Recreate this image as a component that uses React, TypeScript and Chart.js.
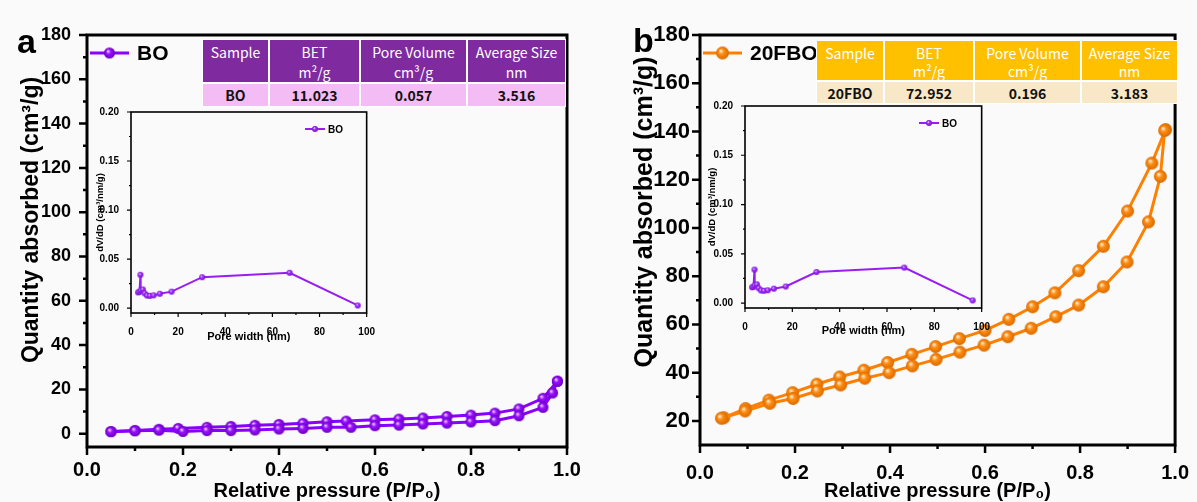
import React, { useEffect, useRef } from 'react';
import { Chart, registerables } from 'chart.js';
Chart.register(...registerables);

const FONT = '"Liberation Sans", Arial, Helvetica, sans-serif';
const CJK = '"Noto Sans CJK SC", "Noto Sans", sans-serif';

// ---------- Panel a: BO isotherm ----------
const boAdsP = [0.05, 0.1, 0.15, 0.2, 0.25, 0.3, 0.35, 0.4, 0.45, 0.5, 0.55, 0.6, 0.65, 0.7, 0.75, 0.8, 0.85, 0.9, 0.95, 0.97, 0.98];
const boAdsQ = [0.9, 1.3, 1.6, 1.0, 1.4, 1.4, 1.7, 2.1, 2.4, 2.9, 2.9, 3.6, 3.9, 4.4, 4.8, 5.3, 5.9, 8.1, 11.9, 18.4, 23.7];
const boDesP = [0.98, 0.95, 0.9, 0.85, 0.8, 0.75, 0.7, 0.65, 0.6, 0.54, 0.5, 0.45, 0.4, 0.35, 0.3, 0.25, 0.19, 0.15, 0.1, 0.05];
const boDesQ = [23.7, 16.0, 11.2, 9.3, 8.4, 7.8, 7.1, 6.6, 6.3, 5.7, 5.4, 4.7, 4.2, 3.8, 3.3, 2.9, 2.4, 2.0, 1.5, 1.0];

// ---------- Panel b: 20FBO isotherm ----------
const fboAdsP = [0.045, 0.095, 0.147, 0.196, 0.247, 0.296, 0.347, 0.398, 0.447, 0.497, 0.547, 0.598, 0.648, 0.697, 0.749, 0.797, 0.849, 0.899, 0.944, 0.969, 0.978];
const fboAdsQ = [21.1, 24.1, 27.3, 29.3, 32.4, 34.9, 37.7, 40.0, 42.8, 45.5, 48.5, 51.4, 54.9, 58.4, 63.2, 68.0, 75.6, 85.9, 102.5, 121.4, 140.4];
const fboDesP = [0.98, 0.951, 0.9, 0.849, 0.797, 0.747, 0.7, 0.65, 0.6, 0.546, 0.496, 0.446, 0.395, 0.345, 0.294, 0.246, 0.195, 0.145, 0.096, 0.05];
const fboDesQ = [140.8, 126.9, 107.0, 92.4, 82.3, 73.1, 67.3, 62.1, 57.5, 54.1, 50.8, 47.6, 44.2, 41.0, 38.2, 35.2, 31.7, 28.6, 25.1, 21.3];

// ---------- Inset: pore size distribution ----------
const poreWidth = [3.0, 3.6, 4.0, 4.1, 5.0, 5.8, 6.8, 8.0, 9.6, 12.2, 17.2, 30.2, 67.3, 96.2];
const poreDV = [0.016, 0.0165, 0.034, 0.018, 0.019, 0.015, 0.0128, 0.0125, 0.013, 0.0146, 0.0168, 0.0315, 0.036, 0.0027];

// ---------- Tables ----------
const tableHead = ['Sample', 'BET\nm²/g', 'Pore Volume\ncm³/g', 'Average Size\nnm'];
const rowA = ['BO', '11.023', '0.057', '3.516'];
const rowB = ['20FBO', '72.952', '0.196', '3.183'];

const PURPLE = '#8a00ff';
const ORANGE = '#ff8000';

function makeSphere(base: string, light: string, dark: string, d: number) {
  const s = Math.ceil(d) + 2;
  const c = document.createElement('canvas');
  c.width = s;
  c.height = s;
  const g = c.getContext('2d')!;
  const r = d / 2, cx = s / 2, cy = s / 2;
  const grad = g.createRadialGradient(cx - r * 0.3, cy - r * 0.35, r * 0.05, cx, cy, r);
  grad.addColorStop(0, light);
  grad.addColorStop(0.4, base);
  grad.addColorStop(1, dark);
  g.fillStyle = grad;
  g.beginPath();
  g.arc(cx, cy, r, 0, Math.PI * 2);
  g.fill();
  return c;
}

function pts(xs: number[], ys: number[]) {
  return xs.map((x, i) => ({ x, y: ys[i] }));
}

function drawTicks(chart: any, major: number, minor: number, width: number, frame: number) {
  const { ctx, chartArea: a } = chart;
  const xs = chart.scales.x, ys = chart.scales.y;
  ctx.save();
  ctx.strokeStyle = '#000';
  ctx.lineWidth = frame;
  ctx.strokeRect(a.left, a.top, a.right - a.left, a.bottom - a.top);
  ctx.lineWidth = width;
  ctx.beginPath();
  const xt = xs.ticks.map((t: any) => t.value);
  const yt = ys.ticks.map((t: any) => t.value);
  const xLine = (v: number, len: number) => {
    const px = xs.getPixelForValue(v);
    ctx.moveTo(px, a.bottom);
    ctx.lineTo(px, a.bottom + len);
  };
  const yLine = (v: number, len: number) => {
    const py = ys.getPixelForValue(v);
    ctx.moveTo(a.left, py);
    ctx.lineTo(a.left - len, py);
  };
  xt.forEach((v: number) => xLine(v, major));
  for (let i = 0; i < xt.length - 1; i++) xLine((xt[i] + xt[i + 1]) / 2, minor);
  yt.forEach((v: number) => yLine(v, major));
  for (let i = 0; i < yt.length - 1; i++) yLine((yt[i] + yt[i + 1]) / 2, minor);
  ctx.stroke();
  ctx.restore();
}

type MainProps = {
  left: number; width: number; height: number;
  area: { l: number; t: number; r: number; b: number };
  yMin: number; yMax: number;
  ads: { x: number; y: number }[]; des: { x: number; y: number }[];
  color: string; sphere: [string, string, string]; ballD: number;
  label: string; letter: string; letterPos: [number, number];
  yTickSize: number; yTickPad: number; xTickSize: number; xTickPad: number;
  yTitleSize: number; yTitlePos: [number, number];
};

function MainChart(p: MainProps) {
  const ref = useRef<HTMLCanvasElement>(null);
  useEffect(() => {
    const ball = makeSphere(p.sphere[0], p.sphere[1], p.sphere[2], p.ballD);
    const decor = {
      id: 'decor',
      beforeDatasetsDraw(chart: any) {
        drawTicks(chart, 8, 4, 2.5, 3);
      },
      afterDraw(chart: any) {
        const { ctx, chartArea: a } = chart;
        ctx.save();
        // legend
        const ly = a.top + 18;
        ctx.strokeStyle = p.color;
        ctx.lineWidth = 3;
        ctx.beginPath();
        ctx.moveTo(a.left + 3, ly);
        ctx.lineTo(a.left + 42, ly);
        ctx.stroke();
        ctx.drawImage(ball, a.left + 22.5 - ball.width / 2, ly - ball.height / 2);
        ctx.fillStyle = '#000';
        ctx.font = `bold 21px ${FONT}`;
        ctx.textAlign = 'left';
        ctx.textBaseline = 'middle';
        ctx.fillText(p.label, a.left + 50, ly + 1);
        // y title
        ctx.save();
        ctx.translate(p.yTitlePos[0], p.yTitlePos[1]);
        ctx.rotate(-Math.PI / 2);
        ctx.textAlign = 'center';
        ctx.font = `bold ${p.yTitleSize}px ${FONT}`;
        ctx.fillText('Quantity absorbed (cm³/g)', 0, 0);
        ctx.restore();
        // panel letter
        ctx.textBaseline = 'alphabetic';
        ctx.font = `bold 34px ${FONT}`;
        ctx.fillText(p.letter, p.letterPos[0], p.letterPos[1]);
        ctx.restore();
      },
    };
    const common = {
      showLine: true,
      borderColor: p.color,
      borderWidth: 3,
      pointStyle: ball as any,
      pointRadius: p.ballD / 2,
      fill: false,
      tension: 0,
    };
    const chart = new Chart(ref.current!, {
      type: 'scatter',
      data: {
        datasets: [
          { ...common, label: p.label + ' ads', data: p.ads },
          { ...common, label: p.label + ' des', data: p.des },
        ],
      },
      options: {
        animation: false,
        responsive: false,
        events: [],
        layout: { padding: { top: p.area.t, right: p.width - p.area.r, left: 0, bottom: 0 } },
        plugins: { legend: { display: false }, tooltip: { enabled: false } },
        scales: {
          x: {
            type: 'linear', position: 'bottom', min: 0, max: 1,
            grid: { display: false }, border: { display: false },
            ticks: {
              stepSize: 0.2, includeBounds: false, autoSkip: false, maxRotation: 0,
              color: '#000', padding: p.xTickPad,
              font: { family: FONT, size: p.xTickSize, weight: 'bold' },
              callback: (v: any) => Number(v).toFixed(1),
            },
            title: {
              display: true, text: 'Relative pressure (P/P₀)', color: '#000',
              font: { family: FONT, size: 20, weight: 'bold', lineHeight: 1 },
              padding: { top: 0, bottom: 1 },
            },
            afterFit: (s: any) => { s.height = p.height - p.area.b; },
          },
          y: {
            type: 'linear', position: 'left', min: p.yMin, max: p.yMax,
            grid: { display: false }, border: { display: false },
            ticks: {
              stepSize: 20, includeBounds: false, autoSkip: false,
              color: '#000', padding: p.yTickPad,
              font: { family: FONT, size: p.yTickSize, weight: 'bold' },
            },
            afterFit: (s: any) => { s.width = p.area.l; },
          },
        },
      } as any,
      plugins: [decor],
    });
    return () => chart.destroy();
  }, []);
  return (
    <canvas
      ref={ref}
      width={p.width}
      height={p.height}
      style={{ position: 'absolute', left: p.left, top: 0, width: p.width, height: p.height }}
    />
  );
}

type InsetProps = { left: number; top: number; area: { l: number; t: number; r: number; b: number }; titlePad: number };

function InsetChart(p: InsetProps) {
  const ref = useRef<HTMLCanvasElement>(null);
  const W = 290, H = 250;
  useEffect(() => {
    const ball = makeSphere('#a030ff', '#f4dcff', '#7a10d0', 6);
    const decor = {
      id: 'insetDecor',
      beforeDatasetsDraw(chart: any) {
        drawTicks(chart, 4, 2, 1.2, 1.6);
      },
      afterDraw(chart: any) {
        const { ctx, chartArea: a } = chart;
        ctx.save();
        const ly = a.top + 17;
        ctx.strokeStyle = '#9a1cf5';
        ctx.lineWidth = 2;
        ctx.beginPath();
        ctx.moveTo(a.left + 174, ly);
        ctx.lineTo(a.left + 194, ly);
        ctx.stroke();
        ctx.drawImage(ball, a.left + 184 - ball.width / 2, ly - ball.height / 2);
        ctx.fillStyle = '#000';
        ctx.font = `bold 10px ${FONT}`;
        ctx.textBaseline = 'middle';
        ctx.fillText('BO', a.left + 197, ly + 1);
        ctx.restore();
      },
    };
    const chart = new Chart(ref.current!, {
      type: 'scatter',
      data: {
        datasets: [
          {
            label: 'BO',
            data: pts(poreWidth, poreDV),
            showLine: true,
            borderColor: '#9a1cf5',
            borderWidth: 2,
            pointStyle: ball as any,
            pointRadius: 3,
            tension: 0,
          },
        ],
      },
      options: {
        animation: false,
        responsive: false,
        events: [],
        layout: { padding: { top: p.area.t, right: W - p.area.r, left: 0, bottom: 0 } },
        plugins: { legend: { display: false }, tooltip: { enabled: false } },
        scales: {
          x: {
            type: 'linear', min: 0, max: 100,
            grid: { display: false }, border: { display: false },
            ticks: {
              stepSize: 20, color: '#000', padding: 5, maxRotation: 0, autoSkip: false,
              font: { family: FONT, size: 10, weight: 'bold' },
            },
            title: {
              display: true, text: 'Pore width (nm)', color: '#000',
              font: { family: FONT, size: 11, weight: 'bold', lineHeight: 1 },
              padding: { top: 0, bottom: 8 },
            },
            afterFit: (s: any) => { s.height = H - p.area.b; },
          },
          y: {
            type: 'linear', min: -0.005, max: 0.2,
            grid: { display: false }, border: { display: false },
            ticks: {
              stepSize: 0.05, includeBounds: false, color: '#000', padding: 4, autoSkip: false,
              font: { family: FONT, size: 10, weight: 'bold' },
              callback: (v: any) => Number(v).toFixed(2),
            },
            title: {
              display: true, text: 'dV/dD (cm³/nm/g)', color: '#000',
              font: { family: FONT, size: 9.5, weight: 'bold', lineHeight: 1 },
              padding: { top: p.titlePad, bottom: 0 },
            },
            afterFit: (s: any) => { s.width = p.area.l; },
          },
        },
      } as any,
      plugins: [decor],
    });
    return () => chart.destroy();
  }, []);
  return (
    <canvas
      ref={ref}
      width={W}
      height={H}
      style={{ position: 'absolute', left: p.left, top: p.top, width: W, height: H }}
    />
  );
}

type TableProps = {
  left: number; top: number; widths: number[]; headH: number; rowH: number;
  headBg: string; rowBg: string; row: string[]; lineH: number; padTop: number;
};

function InfoTable(p: TableProps) {
  return (
    <div
      style={{
        position: 'absolute', left: p.left, top: p.top, display: 'grid',
        gridTemplateColumns: p.widths.map((w) => w + 'px').join(' '),
        gridTemplateRows: `${p.headH}px ${p.rowH}px`,
        gap: 2, padding: 1, background: '#fff', fontFamily: CJK, fontSize: 14,
      }}
    >
      {tableHead.map((h, i) => (
        <div
          key={'h' + i}
          style={{
            background: p.headBg, color: '#fff', textAlign: 'center', whiteSpace: 'pre-line',
            lineHeight: p.lineH + 'px', paddingTop: p.padTop, boxSizing: 'border-box',
          }}
        >
          {h}
        </div>
      ))}
      {p.row.map((c, i) => (
        <div
          key={'r' + i}
          style={{
            background: p.rowBg, color: '#111', display: 'flex', alignItems: 'center',
            justifyContent: 'center', fontWeight: 'bold',
          }}
        >
          {c}
        </div>
      ))}
    </div>
  );
}

export default function App() {
  return (
    <div style={{ position: 'absolute', left: 0, top: 0, width: 1197, height: 502, background: '#fafafa', overflow: 'hidden' }}>
      <MainChart
        left={0} width={595} height={502}
        area={{ l: 87, t: 35, r: 567, b: 447 }}
        yMin={-6} yMax={180}
        ads={pts(boAdsP, boAdsQ)} des={pts(boDesP, boDesQ)}
        color={PURPLE} sphere={['#9a10ff', '#f2d8ff', '#6a00c0']} ballD={11}
        label="BO" letter="a" letterPos={[17, 53]}
        yTickSize={18} yTickPad={8} xTickSize={20} xTickPad={3}
        yTitleSize={23} yTitlePos={[32, 220]}
      />
      <MainChart
        left={598} width={599} height={502}
        area={{ l: 102, t: 35, r: 584, b: 445 }}
        yMin={10} yMax={180}
        ads={pts(fboAdsP, fboAdsQ)} des={pts(fboDesP, fboDesQ)}
        color={ORANGE} sphere={['#ff8c10', '#fff0d8', '#d86a00']} ballD={13}
        label="20FBO" letter="b" letterPos={[35, 52]}
        yTickSize={22} yTickPad={2} xTickSize={20} xTickPad={8}
        yTitleSize={25} yTitlePos={[47, 212]}
      />
      <InsetChart left={90} top={100} area={{ l: 41, t: 12, r: 277, b: 213 }} titlePad={6} />
      <InsetChart left={705} top={94} area={{ l: 40, t: 12, r: 278, b: 214 }} titlePad={3} />
      <InfoTable
        left={202} top={39} widths={[65, 89, 105, 97]} headH={42} rowH={22}
        headBg="#7f2a9f" rowBg="#f4bcf5" row={rowA} lineH={20} padTop={2}
      />
      <InfoTable
        left={816} top={40} widths={[66, 88, 105, 95]} headH={39} rowH={21}
        headBg="#ffc000" rowBg="#f9e8c8" row={rowB} lineH={18} padTop={3}
      />
    </div>
  );
}
